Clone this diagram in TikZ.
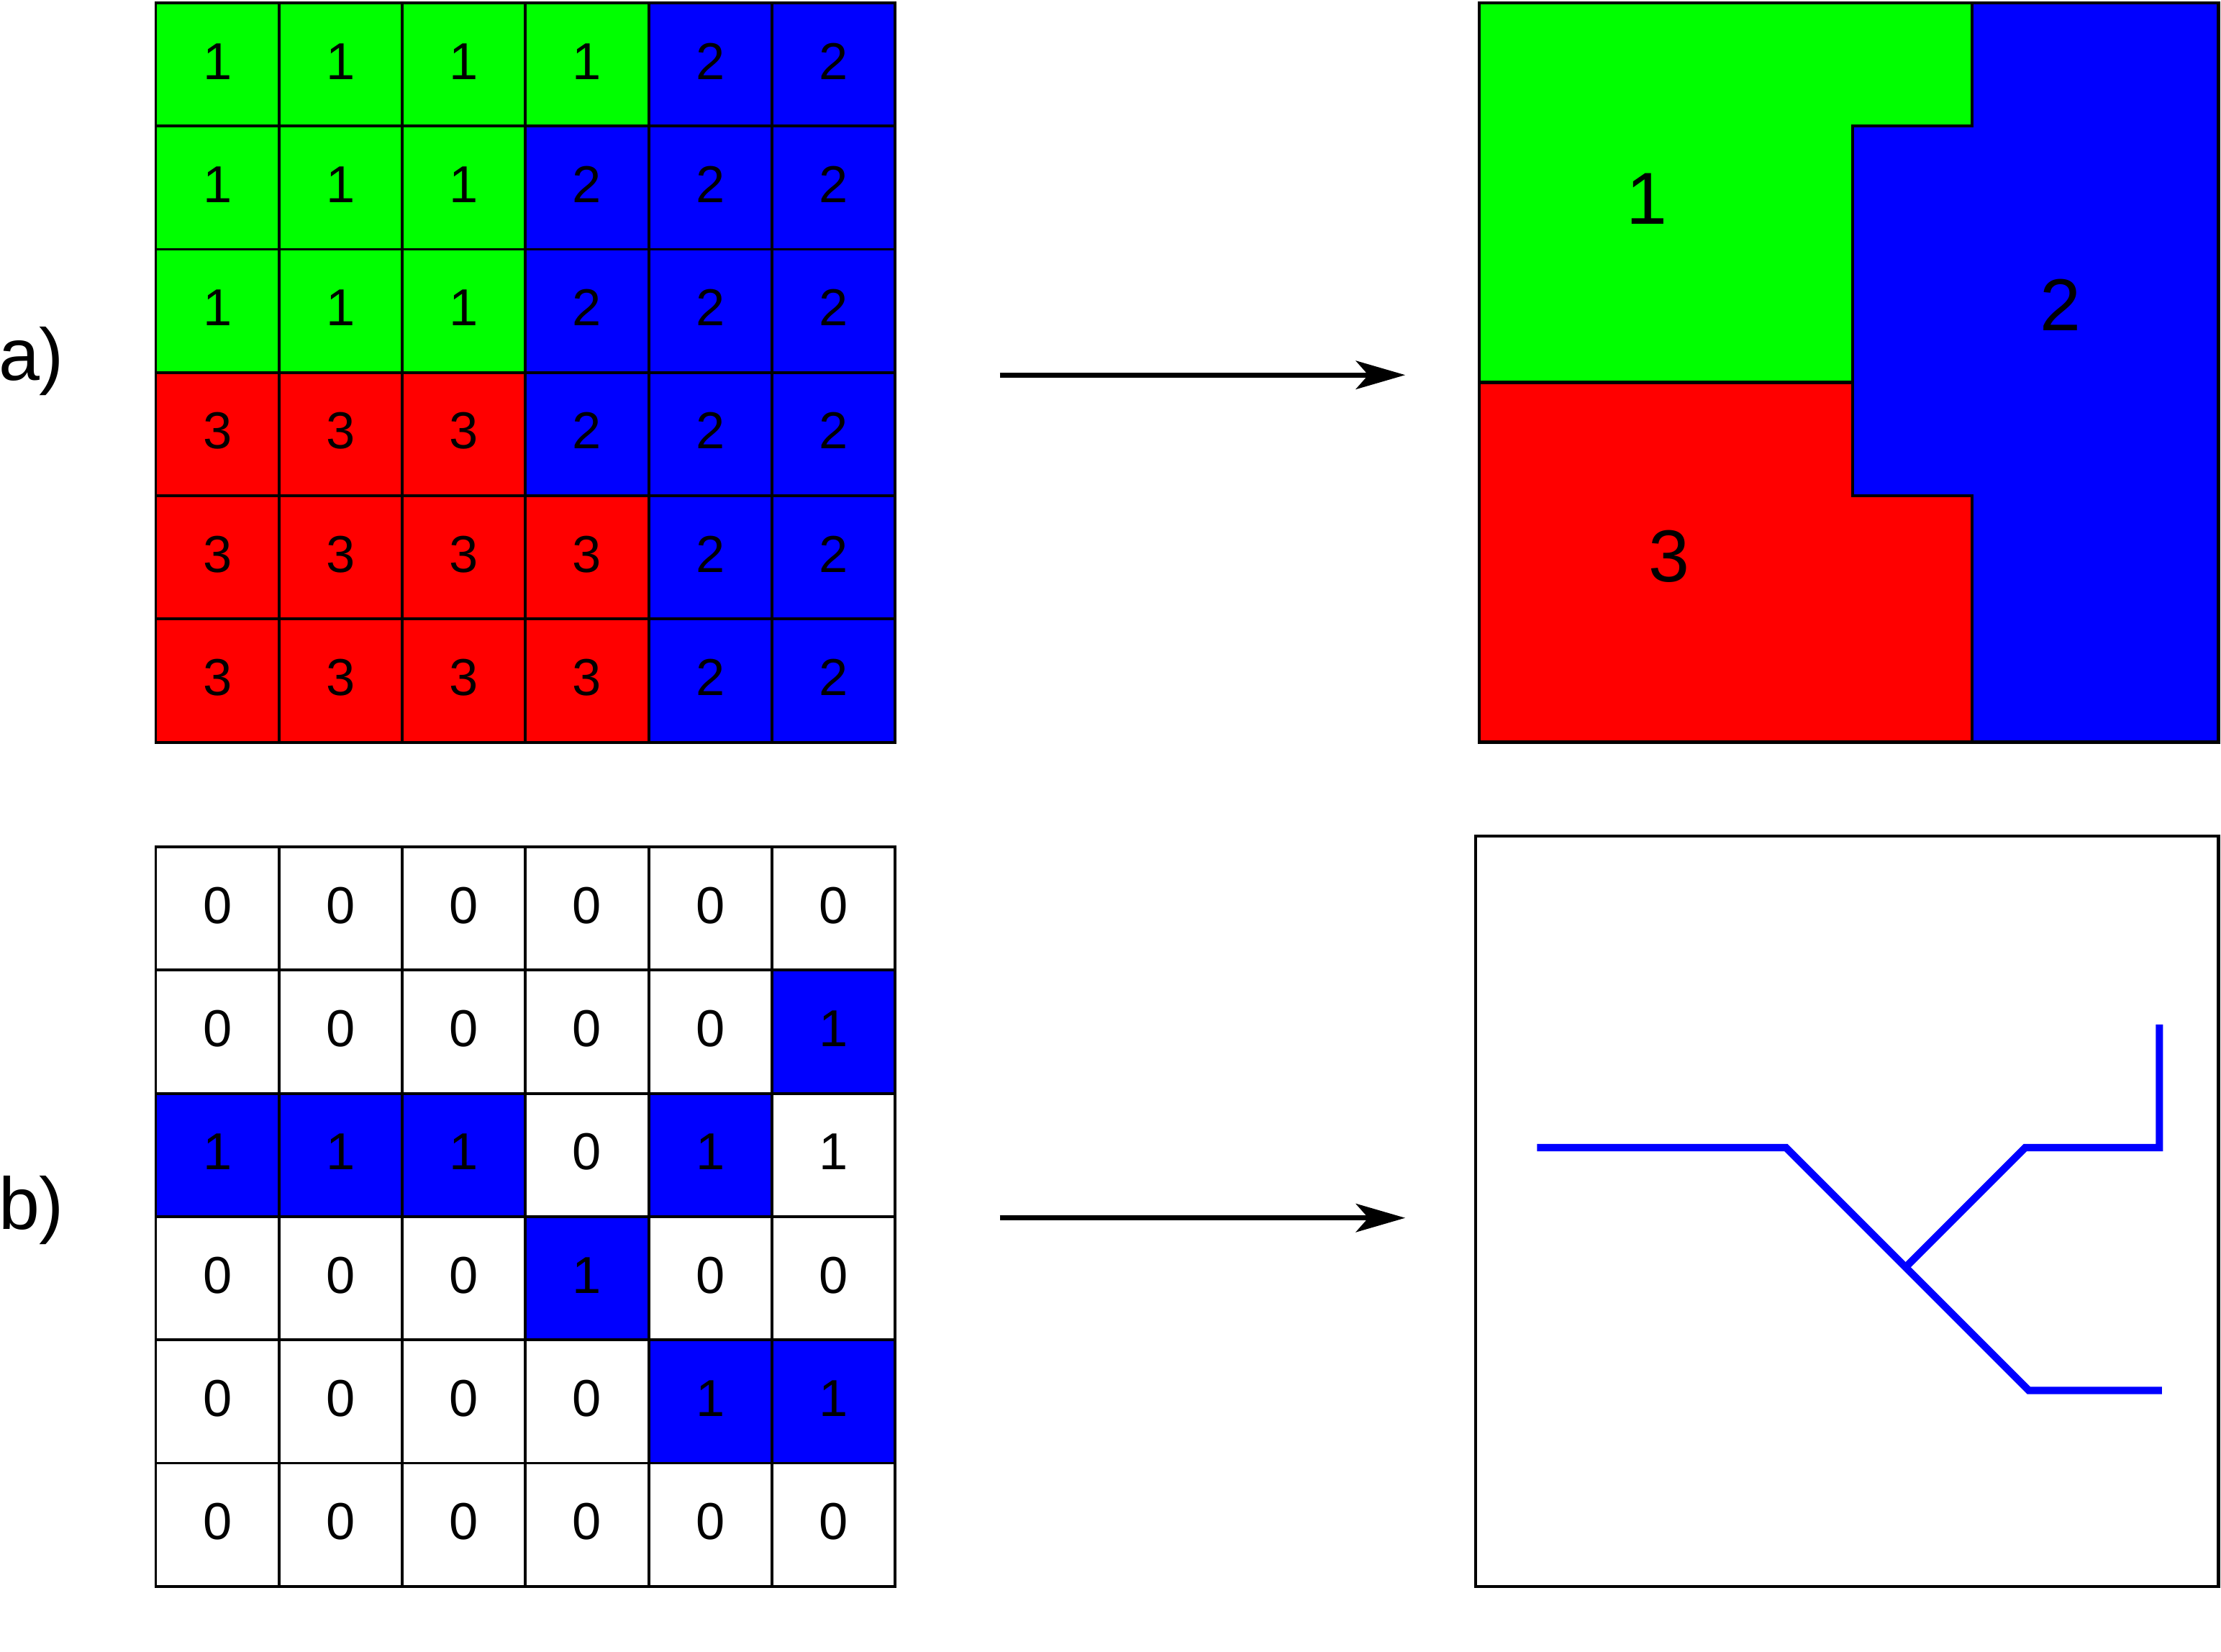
\documentclass[tikz,border=0pt]{standalone}
\usepackage{fontspec}
\setmainfont{Liberation Sans}
\usetikzlibrary{arrows.meta}
\begin{document}
\begin{tikzpicture}[auto,
cell/.style ={rectangle, draw=black, line width=0.65pt,
  minimum width=1cm, minimum height=1cm, inner sep=0pt, outer sep=0pt,
  text height=0.30cm, text depth=0.06cm,
  font=\fontsize{12}{14}\selectfont
},
gcell/.style ={cell, fill=green},
bcell/.style ={cell, fill=blue},
rcell/.style ={cell, fill=red},
wcell/.style ={cell, fill=white},
part/.style ={font=\fontsize{17}{20}\selectfont},
region/.style ={draw=black, line width=0.7pt},
map/.style ={-{Stealth[length=4mm,width=2.3mm,inset=1mm]}, line width=1.2pt},
skel/.style ={draw=blue, line width=1.7pt}
]
\useasboundingbox (-1.264,0.023) rectangle (16.76,-13.38);

\node (la) at (-1.01,-2.91) [part] {a)};
\node (lb) at (-1.01,-9.80) [part] {b)};

\node (a11) at (0.5,-0.5) [gcell] {1};
\node (a12) at (1.5,-0.5) [gcell] {1};
\node (a13) at (2.5,-0.5) [gcell] {1};
\node (a14) at (3.5,-0.5) [gcell] {1};
\node (a15) at (4.5,-0.5) [bcell] {2};
\node (a16) at (5.5,-0.5) [bcell] {2};

\node (a21) at (0.5,-1.5) [gcell] {1};
\node (a22) at (1.5,-1.5) [gcell] {1};
\node (a23) at (2.5,-1.5) [gcell] {1};
\node (a24) at (3.5,-1.5) [bcell] {2};
\node (a25) at (4.5,-1.5) [bcell] {2};
\node (a26) at (5.5,-1.5) [bcell] {2};

\node (a31) at (0.5,-2.5) [gcell] {1};
\node (a32) at (1.5,-2.5) [gcell] {1};
\node (a33) at (2.5,-2.5) [gcell] {1};
\node (a34) at (3.5,-2.5) [bcell] {2};
\node (a35) at (4.5,-2.5) [bcell] {2};
\node (a36) at (5.5,-2.5) [bcell] {2};

\node (a41) at (0.5,-3.5) [rcell] {3};
\node (a42) at (1.5,-3.5) [rcell] {3};
\node (a43) at (2.5,-3.5) [rcell] {3};
\node (a44) at (3.5,-3.5) [bcell] {2};
\node (a45) at (4.5,-3.5) [bcell] {2};
\node (a46) at (5.5,-3.5) [bcell] {2};

\node (a51) at (0.5,-4.5) [rcell] {3};
\node (a52) at (1.5,-4.5) [rcell] {3};
\node (a53) at (2.5,-4.5) [rcell] {3};
\node (a54) at (3.5,-4.5) [rcell] {3};
\node (a55) at (4.5,-4.5) [bcell] {2};
\node (a56) at (5.5,-4.5) [bcell] {2};

\node (a61) at (0.5,-5.5) [rcell] {3};
\node (a62) at (1.5,-5.5) [rcell] {3};
\node (a63) at (2.5,-5.5) [rcell] {3};
\node (a64) at (3.5,-5.5) [rcell] {3};
\node (a65) at (4.5,-5.5) [bcell] {2};
\node (a66) at (5.5,-5.5) [bcell] {2};

\node (b11) at (0.5,-7.35) [wcell] {0};
\node (b12) at (1.5,-7.35) [wcell] {0};
\node (b13) at (2.5,-7.35) [wcell] {0};
\node (b14) at (3.5,-7.35) [wcell] {0};
\node (b15) at (4.5,-7.35) [wcell] {0};
\node (b16) at (5.5,-7.35) [wcell] {0};

\node (b21) at (0.5,-8.35) [wcell] {0};
\node (b22) at (1.5,-8.35) [wcell] {0};
\node (b23) at (2.5,-8.35) [wcell] {0};
\node (b24) at (3.5,-8.35) [wcell] {0};
\node (b25) at (4.5,-8.35) [wcell] {0};
\node (b26) at (5.5,-8.35) [bcell] {1};

\node (b31) at (0.5,-9.35) [bcell] {1};
\node (b32) at (1.5,-9.35) [bcell] {1};
\node (b33) at (2.5,-9.35) [bcell] {1};
\node (b34) at (3.5,-9.35) [wcell] {0};
\node (b35) at (4.5,-9.35) [bcell] {1};
\node (b36) at (5.5,-9.35) [wcell] {1};

\node (b41) at (0.5,-10.35) [wcell] {0};
\node (b42) at (1.5,-10.35) [wcell] {0};
\node (b43) at (2.5,-10.35) [wcell] {0};
\node (b44) at (3.5,-10.35) [bcell] {1};
\node (b45) at (4.5,-10.35) [wcell] {0};
\node (b46) at (5.5,-10.35) [wcell] {0};

\node (b51) at (0.5,-11.35) [wcell] {0};
\node (b52) at (1.5,-11.35) [wcell] {0};
\node (b53) at (2.5,-11.35) [wcell] {0};
\node (b54) at (3.5,-11.35) [wcell] {0};
\node (b55) at (4.5,-11.35) [bcell] {1};
\node (b56) at (5.5,-11.35) [bcell] {1};

\node (b61) at (0.5,-12.35) [wcell] {0};
\node (b62) at (1.5,-12.35) [wcell] {0};
\node (b63) at (2.5,-12.35) [wcell] {0};
\node (b64) at (3.5,-12.35) [wcell] {0};
\node (b65) at (4.5,-12.35) [wcell] {0};
\node (b66) at (5.5,-12.35) [wcell] {0};

\filldraw[region, fill=green] (10.74,0) -- (14.74,0) -- (14.74,-1) -- (13.77,-1)
  -- (13.77,-3.08) -- (10.74,-3.08) -- cycle;
\filldraw[region, fill=red] (10.74,-3.08) -- (13.77,-3.08) -- (13.77,-4) -- (14.74,-4)
  -- (14.74,-6) -- (10.74,-6) -- cycle;
\filldraw[region, fill=blue] (14.74,0) -- (16.74,0) -- (16.74,-6) -- (14.74,-6)
  -- (14.74,-4) -- (13.77,-4) -- (13.77,-1) -- (14.74,-1) -- cycle;
\node (r1) at (12.10,-1.59) [part] {1};
\node (r2) at (15.46,-2.45) [part] {2};
\node (r3) at (12.28,-4.49) [part] {3};

\draw[region] (10.71,-6.76) rectangle (16.74,-12.85);
\draw[skel] (11.21,-9.29) -- (13.23,-9.29) -- (15.20,-11.26) -- (16.28,-11.26);
\draw[skel] (14.20,-10.26) -- (15.17,-9.29) -- (16.26,-9.29) -- (16.26,-8.29);

\coordinate (ma1) at (6.85,-3.02);
\coordinate (ma2) at (10.14,-3.02);
\coordinate (mb1) at (6.85,-9.86);
\coordinate (mb2) at (10.14,-9.86);
\draw[map] (ma1) -- (ma2);
\draw[map] (mb1) -- (mb2);
\end{tikzpicture}
\end{document}
